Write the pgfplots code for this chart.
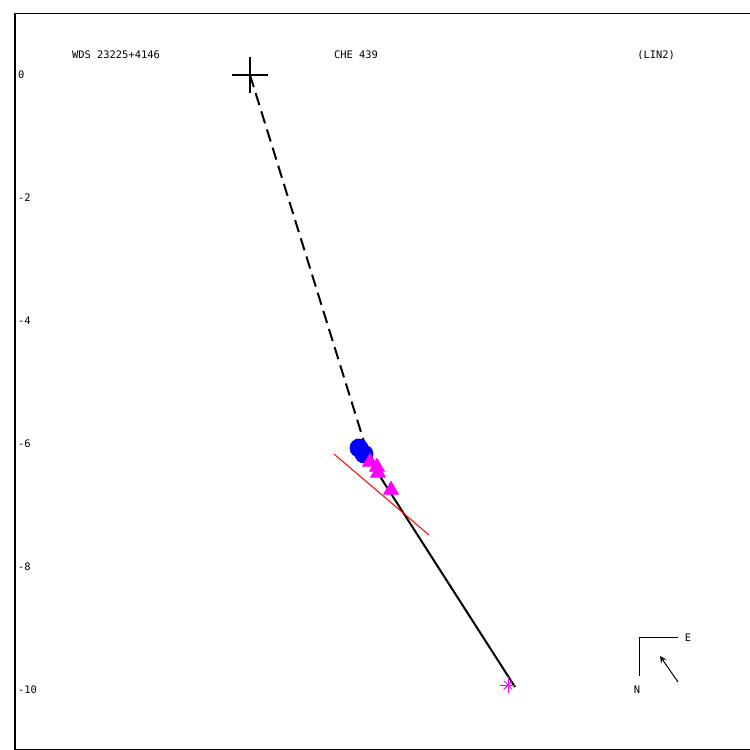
\documentclass[border=0pt]{standalone}
\usepackage{pgfplots}
\pgfplotsset{compat=1.18}
\usepackage{fontspec}
\setmonofont{DejaVu Sans Mono}
\definecolor{mag}{RGB}{255,0,255}
\definecolor{bl}{RGB}{0,0,255}
\definecolor{rd}{RGB}{255,0,0}
\newcommand{\lf}{\ttfamily\fontsize{5.2}{6}\selectfont}
\begin{document}
\begin{tikzpicture}
\begin{axis}[
  name=ax, scale only axis, width=368pt, height=367.5pt,
  xmin=-3.821, xmax=8.146, ymin=-10.959, ymax=0.992,
  axis line style={line width=0.5pt},
  xtick=\empty, ytick={-10,-8,-6,-4,-2,0},
  major tick length=0pt,
  /pgf/number format/assume math mode=true,
  yticklabel style={anchor=west, font=\lf, xshift=-2pt},
]
% dashed line primary -> start
\addplot[black, line width=1pt, dash pattern=on 6.3pt off 3.2pt] coordinates {(0,0) (1.870,-6.016)};
% solid line
\addplot[black, line width=1pt] coordinates {(1.724,-5.919) (4.309,-9.951)};
% red line
\addplot[rd, line width=0.5pt] coordinates {(1.366,-6.163) (2.911,-7.480)};
% blue circles
\addplot[only marks, mark=*, mark size=4.5pt, bl, mark options={draw=bl, fill=bl}] coordinates {(1.772,-6.065) (1.854,-6.163)};
% magenta triangles
\addplot[only marks, mark=triangle*, mark size=4.3pt, mag, mark options={draw=mag, fill=mag}] coordinates {(1.951,-6.293) (2.065,-6.374) (2.081,-6.472) (2.293,-6.748)};
% star
\addplot[only marks, mark=+, mark size=4pt, mag, line width=0.5pt] coordinates {(4.195,-9.919)};
\addplot[only marks, mark=x, mark size=3pt, mag, line width=0.5pt] coordinates {(4.195,-9.919)};
% primary plus
\addplot[only marks, mark=+, mark size=9pt, black, line width=1pt] coordinates {(0,0)};
% compass
\addplot[black, line width=0.5pt] coordinates {(6.959,-9.154) (6.341,-9.154) (6.341,-9.772)};
\addplot[black, line width=0.5pt, -stealth] coordinates {(6.959,-9.870) (6.667,-9.447)};
\node[font=\lf] at (axis cs:7.122,-9.154) {E};
\node[font=\lf] at (axis cs:6.293,-10.0) {N};
% titles
\node[font=\lf] at (axis cs:-2.179,0.325) {WDS 23225+4146};
\node[font=\lf] at (axis cs:1.724,0.325) {CHE 439};
\node[font=\lf] at (axis cs:6.602,0.325) {(LIN2)};
\end{axis}
\pgfresetboundingbox
\useasboundingbox ([shift={(-7.5pt,-0.5pt)}]ax.south west) rectangle ([shift={(-0.5pt,7pt)}]ax.north east);
\end{tikzpicture}
\end{document}
